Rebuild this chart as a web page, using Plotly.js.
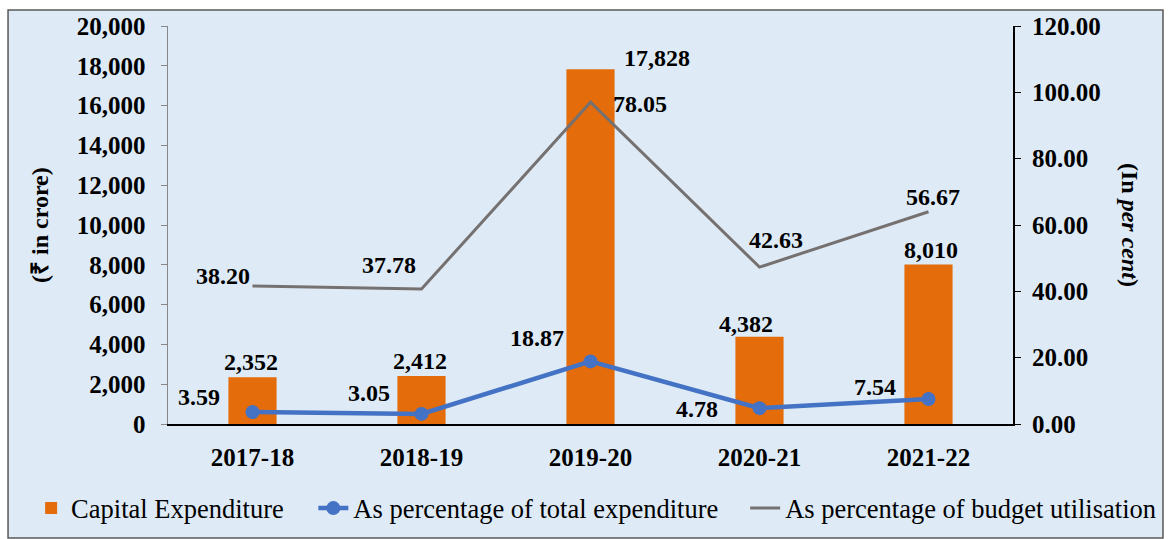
<!DOCTYPE html>
<html><head><meta charset="utf-8">
<script src="https://cdn.plot.ly/plotly-3.0.1.min.js"></script>
<style>html,body{margin:0;padding:0;background:#fff}#chart{width:1170px;height:539px}</style>
</head><body><div id="chart"></div>
<script>
// ---- data ----
const years = ['2017-18', '2018-19', '2019-20', '2020-21', '2021-22'];
const capitalExpenditure = [2352, 2412, 17828, 4382, 8010];
const pctTotalExpenditure = [3.59, 3.05, 18.87, 4.78, 7.54];
const pctBudgetUtilLine = [41.6, 40.7, 97.0, 47.3, 64.0];   // line as drawn in the picture
const pctBudgetUtilLabels = ['38.20', '37.78', '78.05', '42.63', '56.67'];
const seriesNames = ['Capital Expenditure', 'As percentage of total expenditure', 'As percentage of budget utilisation'];

// ---- styles / label offsets (pixels) ----
const FONT = 'Liberation Serif';
const BG = '#DEEBF7';
const barOff = [[-2, 15], [-2, 15], [66, 11], [-14, 13], [2, 15]];
const blueOff = [[-54, 15], [-53, 21], [-54, 23], [-63, -1], [-54, 12]];
const grayOff = [[-30, 10], [-33, 24], [49, -2], [16, 27], [4, 15]];

const fmt = v => v.toLocaleString('en-US');

const traces = [
  {type: 'bar', x: years, y: capitalExpenditure, name: seriesNames[0], yaxis: 'y',
   marker: {color: '#E46C0A'}, width: 0.285, legend: 'legend', hoverinfo: 'x+y'},
  {type: 'scatter', mode: 'lines+markers', x: years, y: pctTotalExpenditure, name: seriesNames[1], yaxis: 'y2',
   line: {color: '#4472C4', width: 4.5}, marker: {color: '#4472C4', size: 14}, legend: 'legend2'},
  {type: 'scatter', mode: 'lines', x: years, y: pctBudgetUtilLine, name: seriesNames[2], yaxis: 'y2',
   line: {color: '#767171', width: 3}, legend: 'legend3'}
];

const labelFont = {family: FONT, size: 24, color: '#000', weight: 'bold'};
const annotations = [];
years.forEach((yr, i) => {
  annotations.push({x: yr, y: capitalExpenditure[i], xref: 'x', yref: 'y', text: fmt(capitalExpenditure[i]),
    showarrow: false, xanchor: 'center', yanchor: 'middle', xshift: barOff[i][0], yshift: barOff[i][1], font: labelFont});
  annotations.push({x: yr, y: pctTotalExpenditure[i], xref: 'x', yref: 'y2', text: pctTotalExpenditure[i].toFixed(2),
    showarrow: false, xanchor: 'center', yanchor: 'middle', xshift: blueOff[i][0], yshift: blueOff[i][1], font: labelFont});
  annotations.push({x: yr, y: pctBudgetUtilLine[i], xref: 'x', yref: 'y2', text: pctBudgetUtilLabels[i],
    showarrow: false, xanchor: 'center', yanchor: 'middle', xshift: grayOff[i][0], yshift: grayOff[i][1], font: labelFont});
});
annotations.push({x: -0.1515, y: 0.5, xref: 'paper', yref: 'paper', text: '(₹ in crore)', textangle: -90,
  showarrow: false, xanchor: 'center', yanchor: 'middle', font: {family: FONT, size: 24, color: '#000', weight: 'bold'}});
annotations.push({x: 1.1385, y: 0.5, xref: 'paper', yref: 'paper', text: '(In <i>per cent</i>)', textangle: 90,
  showarrow: false, xanchor: 'center', yanchor: 'middle', font: {family: FONT, size: 24, color: '#000', weight: 'bold'}});

const tickFont = {family: FONT, size: 25, color: '#000', weight: 'bold'};
const legFont = {family: FONT, size: 26.5, color: '#000'};
const legBase = {orientation: 'h', yanchor: 'middle', xanchor: 'left', y: -0.212, bgcolor: 'rgba(0,0,0,0)', font: legFont};

const layout = {
  width: 1170, height: 539,
  font: {family: FONT},
  margin: {l: 168, r: 157, t: 26, b: 115, autoexpand: false},
  paper_bgcolor: '#fff', plot_bgcolor: 'rgba(0,0,0,0)',
  showlegend: true,
  xaxis: {type: 'category', showgrid: false, zeroline: false, showline: true, linecolor: '#000', linewidth: 2,
          ticks: '', tickfont: tickFont, ticklabelstandoff: 10, automargin: false},
  yaxis: {range: [0, 20000], dtick: 2000, tickformat: ',', showgrid: false, zeroline: false,
          showline: true, linecolor: '#868686', linewidth: 1.5, ticks: 'outside', ticklen: 6, tickcolor: '#868686',
          tickfont: tickFont, ticklabelstandoff: 10, automargin: false},
  yaxis2: {range: [0, 120], dtick: 20, tickformat: '.2f', overlaying: 'y', side: 'right', showgrid: false, zeroline: false,
          showline: true, linecolor: '#000', linewidth: 2, ticks: 'outside', ticklen: 6, tickcolor: '#000',
          tickfont: tickFont, ticklabelstandoff: 6, automargin: false},
  legend: Object.assign({}, legBase, {x: -0.162}),
  legend2: Object.assign({}, legBase, {x: 0.172}),
  legend3: Object.assign({}, legBase, {x: 0.683}),
  shapes: [{type: 'rect', xref: 'paper', yref: 'paper', x0: -0.1893, x1: 1.1775, y0: -0.2865, y1: 1.0402,
            fillcolor: BG, line: {color: '#595959', width: 1.5}, layer: 'below'}],
  annotations: annotations
};

Plotly.newPlot('chart', traces, layout, {displayModeBar: false, staticPlot: true});
</script></body></html>
